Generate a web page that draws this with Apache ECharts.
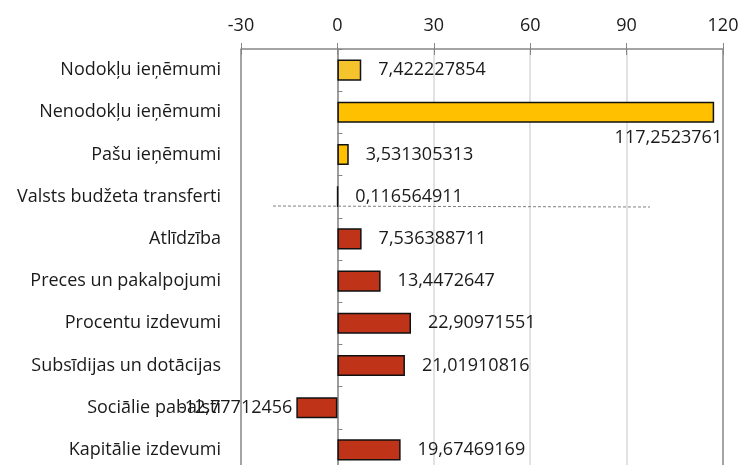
<!DOCTYPE html>
<html>
<head>
<meta charset="utf-8">
<script src="https://cdn.jsdelivr.net/npm/echarts@6/dist/echarts.min.js"></script>
<style>
  html, body { margin: 0; padding: 0; background: #fff; }
  #main { width: 742px; height: 465px; }
</style>
</head>
<body>
<div id="main"></div>
<script>
var categories = ['Nodokļu ieņēmumi', 'Nenodokļu ieņēmumi', 'Pašu ieņēmumi', 'Valsts budžeta transferti',
    'Atlīdzība', 'Preces un pakalpojumi', 'Procentu izdevumi', 'Subsīdijas un dotācijas',
    'Sociālie pabalsti', 'Kapitālie izdevumi'];
var values = [7.422227854, 117.2523761, 3.531305313, 0.116564911, 7.536388711,
    13.4472647, 22.90971551, 21.01910816, -12.77712456, 19.67469169];
var barColors = ['#F5C42C', '#FFC000', '#FFC000', '#FFC000', '#BF3319',
    '#BF3319', '#BF3319', '#BF3319', '#BF3319', '#BF3319'];
var xMin = -30, xMax = 120, xStep = 30;

var font = 'Open Sans';
var txt = '#1a1a1a';

var chart = echarts.init(document.getElementById('main'));

var data = values.map(function (v, i) {
    var item = { value: v, itemStyle: { color: barColors[i] } };
    if (i === 1) {
        // excel pushed this one under the bar
        item.label = { position: ['100%', '100%'], align: 'right', verticalAlign: 'top', offset: [8, 6] };
    } else if (v < 0) {
        item.label = { position: 'left', distance: 4 };
    }
    return item;
});

chart.setOption({
    animation: false,
    grid: { left: 241, right: 19, top: 49, bottom: -6, containLabel: false, outerBoundsMode: 'none' },
    xAxis: [{
        type: 'value', position: 'top', min: xMin, max: xMax, interval: xStep,
        axisLine: { show: true, lineStyle: { color: '#868686', width: 1.5 } },
        axisTick: { show: true, length: 6, lineStyle: { color: '#868686' } },
        axisLabel: { color: txt, fontFamily: font, fontSize: 18, margin: 14 },
        splitLine: { show: true, lineStyle: { color: ['#868686', '#d9d9d9', '#d9d9d9', '#d9d9d9', '#d9d9d9', '#868686'], width: 1.5 } }
    }, {
        type: 'value', position: 'top', min: xMin, max: xMax, interval: xStep,
        axisLine: { show: false },
        axisTick: { show: true, inside: true, length: 6, lineStyle: { color: '#868686' } },
        axisLabel: { show: false },
        splitLine: { show: false }
    }],
    yAxis: [{
        type: 'category', data: categories, inverse: true, position: 'left',
        axisLine: { show: false }, axisTick: { show: false },
        axisLabel: { color: txt, fontFamily: font, fontSize: 18, margin: 20 }
    }, {
        type: 'category', data: categories, inverse: true,
        axisLine: { show: true, onZero: true, lineStyle: { color: '#868686', width: 1.5 } },
        axisTick: { show: true, length: 5, lineStyle: { color: '#868686' } },
        axisLabel: { show: false }
    }],
    series: [{
        type: 'bar', xAxisIndex: 0, yAxisIndex: 0, data: data, barWidth: '50%',
        itemStyle: { borderColor: '#111', borderWidth: 1.5 },
        label: {
            show: true, position: 'right', distance: 17, color: txt, fontFamily: font, fontSize: 18,
            formatter: function (p) { return String(p.value).replace('.', ','); }
        },
        z: 3
    }],
    graphic: [{
        type: 'line', z: 10,
        shape: { x1: 273, y1: 206, x2: 650, y2: 207 },
        style: { stroke: '#7f7f7f', lineWidth: 1, lineDash: [3, 2] }
    }]
});
</script>
</body>
</html>
